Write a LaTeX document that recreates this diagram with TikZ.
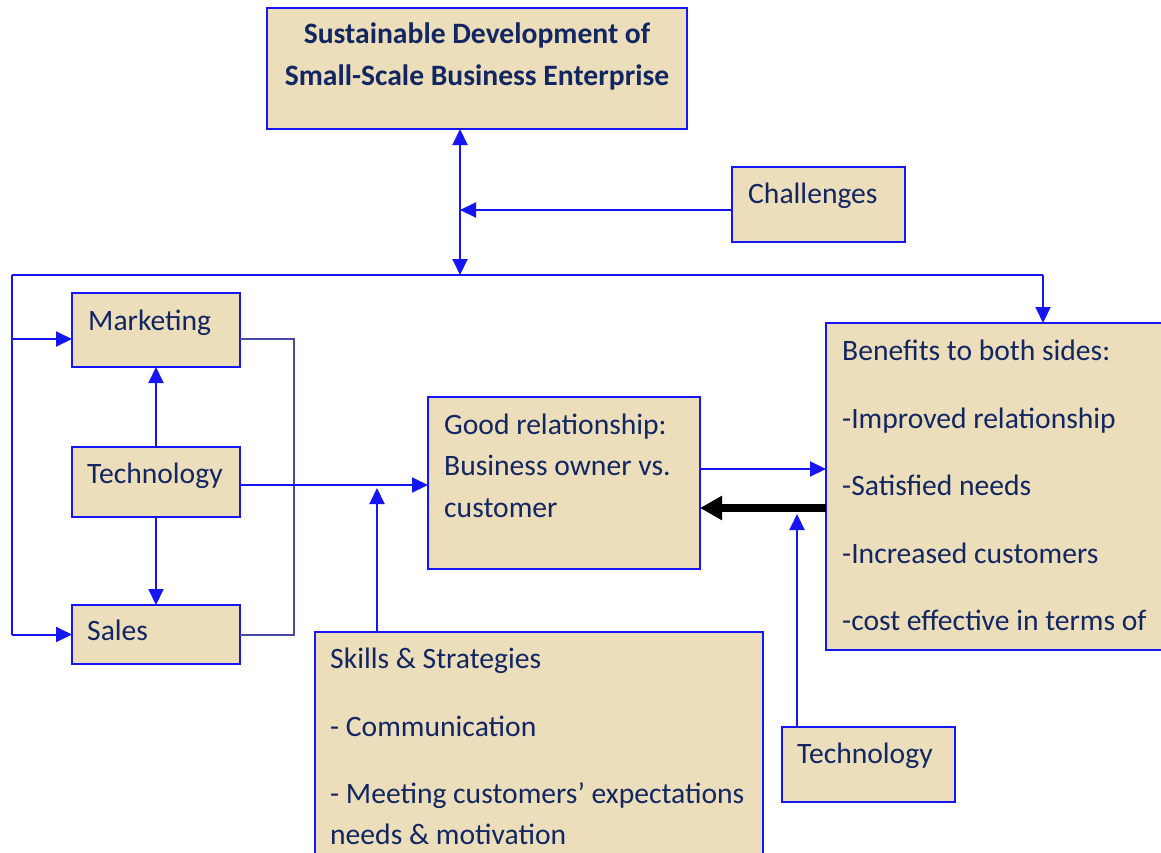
\documentclass[tikz,border=0pt]{standalone}
\usepackage{fontspec}
\setmainfont{Carlito}
\usetikzlibrary{arrows.meta,calc}
\definecolor{parch}{RGB}{236,221,187}
\definecolor{ink}{RGB}{18,38,98}
\definecolor{wire}{RGB}{22,22,245}
\definecolor{brk}{RGB}{72,72,165}
\tikzset{
  card/.style={draw=wire, line width=2pt, fill=parch, anchor=north west,
               inner sep=0pt, outer sep=0pt},
  txt/.style={anchor=base west, inner sep=0pt, text=ink,
              font=\fontsize{29.6}{34}\selectfont},
  ttl/.style={anchor=base, inner sep=0pt, text=ink,
              font=\fontsize{29.6}{34}\selectfont\bfseries},
  wireline/.style={draw=wire, line width=2pt},
  link/.style={wireline, -{Triangle[length=16pt,width=15pt]}},
  twoway/.style={wireline, {Triangle[length=16pt,width=15pt]}-{Triangle[length=16pt,width=15pt]}},
  bracket/.style={draw=brk, line width=2pt},
  heavy/.style={draw=black, line width=7.5pt, -{Triangle[length=22pt,width=23pt]}},
}
\begin{document}
\begin{tikzpicture}[x=1pt,y=-1pt]
\useasboundingbox (0,0) rectangle (1161,852);
\clip (0,0) rectangle (1161,852);

% boxes
\node[card, minimum width=420pt, minimum height=121pt] (goal) at (267,8) {};
\node[card, minimum width=173pt, minimum height=75pt]  (chal) at (732,167) {};
\node[card, minimum width=168pt, minimum height=74pt]  (mkt)  at (72,293) {};
\node[card, minimum width=168pt, minimum height=70pt]  (techL) at (72,447) {};
\node[card, minimum width=168pt, minimum height=59pt]  (sales) at (72,605) {};
\node[card, minimum width=272pt, minimum height=172pt] (good) at (428,397) {};
\node[card, minimum width=345pt, minimum height=327pt] (ben)  at (826,323) {};
\node[card, minimum width=448pt, minimum height=235pt] (skill) at (315,632) {};
\node[card, minimum width=173pt, minimum height=75pt]  (techR) at (782,727) {};

% texts
\node[ttl] (goalA) at (477,43) {Sustainable Development of};
\node[ttl] (goalB) at (477,85) {Small-Scale Business Enterprise};
\node[txt] (chalT) at (748,203) {Challenges};
\node[txt] (mktT) at (88,330) {Marketing};
\node[txt] (techLT) at (87,483) {Technology};
\node[txt] (salesT) at (87,640) {Sales};
\node[txt] (goodA) at (444,434) {Good relationship:};
\node[txt] (goodB) at (444,475) {Business owner vs.};
\node[txt] (goodC) at (444,517) {customer};
\node[txt] (benA) at (842,360) {Benefits to both sides:};
\node[txt] (benB) at (842,428) {-Improved relationship};
\node[txt] (benC) at (842,495) {-Satisfied needs};
\node[txt] (benD) at (842,563) {-Increased customers};
\node[txt] (benE) at (842,630) {-cost effective in terms of};
\node[txt] (skA) at (330,668) {Skills \& Strategies};
\node[txt] (skB) at (330,736) {- Communication};
\node[txt] (skC) at (330,803) {- Meeting customers’ expectations};
\node[txt] (skD) at (330,844) {needs \& motivation};
\node[txt] (techRT) at (797,763) {Technology};

% junction points
\coordinate (hub) at (460,275);
\coordinate (busL) at (12,275);
\coordinate (busR) at (1043,275);
\coordinate (chalRow) at (0,210);
\coordinate (mktIn) at (12,339);
\coordinate (brkTop) at (294,339);
\coordinate (techRow) at (0,485);
\coordinate (skUp) at (377,488);
\coordinate (fwdRow) at (0,469);
\coordinate (backRow) at (0,508);
\coordinate (techUp) at (797,514);

% top spine and bus
\draw[twoway] (hub |- goal.south) -- (hub);
\draw[link] (chal.west |- chalRow) -- (hub |- chalRow);
\draw[wireline] (busL) -- (busR);
\draw[link] (busR) -- (busR |- ben.north);

% left column
\draw[wireline] (busL) -- (busL |- sales.west);
\draw[link] (mktIn) -- (mkt.west |- mktIn);
\draw[link] (busL |- sales.west) -- (sales.west);
\draw[link] (techL.north) -- (mkt.south);
\draw[link] (techL.south) -- (sales.north);
\draw[bracket] (mkt.east |- brkTop) -- (brkTop) -- (brkTop |- sales.east) -- (sales.east);

% middle
\draw[link] (techL.east |- techRow) -- (good.west |- techRow);
\draw[link] (skUp |- skill.north) -- (skUp);
\draw[link] (good.east |- fwdRow) -- (ben.west |- fwdRow);
\draw[heavy] (ben.west |- backRow) -- (good.east |- backRow);
\draw[link] (techUp |- techR.north) -- (techUp);
\end{tikzpicture}
\end{document}
